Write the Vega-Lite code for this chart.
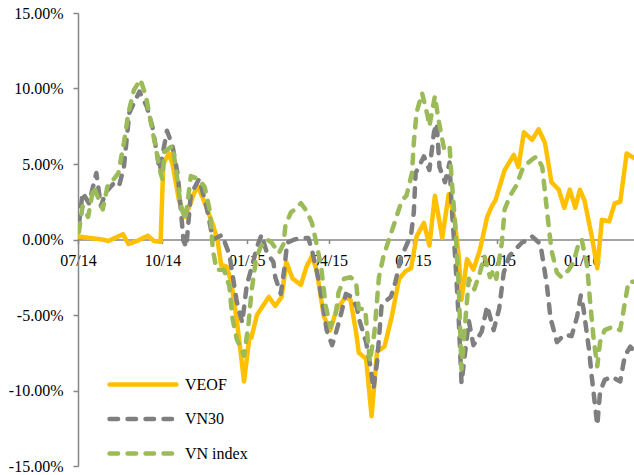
{
  "$schema": "https://vega.github.io/schema/vega-lite/v6.json",
  "width": 556,
  "height": 453,
  "autosize": {"type": "none"},
  "padding": {"left": 78, "top": 13, "right": 0, "bottom": 9},
  "background": "white",
  "config": {"view": {"stroke": null}, "font": "Liberation Serif"},
  "data": {"values": [
    {"s":"VEOF","d":"2014-07-02","v":0.2},{"s":"VEOF","d":"2014-07-14","v":0.1},{"s":"VEOF","d":"2014-07-27","v":0.0},{"s":"VEOF","d":"2014-08-03","v":-0.1},{"s":"VEOF","d":"2014-08-19","v":0.35},{"s":"VEOF","d":"2014-08-25","v":-0.3},{"s":"VEOF","d":"2014-09-05","v":-0.05},{"s":"VEOF","d":"2014-09-15","v":0.25},{"s":"VEOF","d":"2014-09-22","v":-0.1},{"s":"VEOF","d":"2014-09-29","v":-0.15},{"s":"VEOF","d":"2014-10-02","v":5.0},{"s":"VEOF","d":"2014-10-08","v":5.7},{"s":"VEOF","d":"2014-10-12","v":5.0},{"s":"VEOF","d":"2014-10-19","v":2.6},{"s":"VEOF","d":"2014-10-26","v":1.5},{"s":"VEOF","d":"2014-11-03","v":2.8},{"s":"VEOF","d":"2014-11-08","v":3.6},{"s":"VEOF","d":"2014-11-15","v":2.6},{"s":"VEOF","d":"2014-11-25","v":1.0},{"s":"VEOF","d":"2014-11-30","v":0.0},{"s":"VEOF","d":"2014-12-04","v":-1.7},{"s":"VEOF","d":"2014-12-10","v":-1.8},{"s":"VEOF","d":"2014-12-15","v":-2.8},{"s":"VEOF","d":"2014-12-21","v":-5.3},{"s":"VEOF","d":"2014-12-29","v":-9.4},{"s":"VEOF","d":"2015-01-04","v":-6.4},{"s":"VEOF","d":"2015-01-06","v":-6.5},{"s":"VEOF","d":"2015-01-12","v":-5.0},{"s":"VEOF","d":"2015-01-25","v":-3.8},{"s":"VEOF","d":"2015-02-01","v":-4.4},{"s":"VEOF","d":"2015-02-08","v":-3.8},{"s":"VEOF","d":"2015-02-13","v":-1.5},{"s":"VEOF","d":"2015-02-20","v":-2.6},{"s":"VEOF","d":"2015-03-01","v":-3.0},{"s":"VEOF","d":"2015-03-07","v":-1.8},{"s":"VEOF","d":"2015-03-13","v":-1.1},{"s":"VEOF","d":"2015-03-18","v":-2.0},{"s":"VEOF","d":"2015-03-26","v":-5.1},{"s":"VEOF","d":"2015-04-02","v":-6.0},{"s":"VEOF","d":"2015-04-09","v":-4.6},{"s":"VEOF","d":"2015-04-19","v":-3.8},{"s":"VEOF","d":"2015-04-24","v":-4.0},{"s":"VEOF","d":"2015-04-30","v":-6.1},{"s":"VEOF","d":"2015-05-03","v":-7.5},{"s":"VEOF","d":"2015-05-11","v":-7.9},{"s":"VEOF","d":"2015-05-17","v":-11.7},{"s":"VEOF","d":"2015-05-23","v":-7.4},{"s":"VEOF","d":"2015-05-31","v":-7.1},{"s":"VEOF","d":"2015-06-08","v":-5.1},{"s":"VEOF","d":"2015-06-16","v":-2.6},{"s":"VEOF","d":"2015-06-23","v":-2.1},{"s":"VEOF","d":"2015-06-29","v":-1.9},{"s":"VEOF","d":"2015-07-05","v":0.2},{"s":"VEOF","d":"2015-07-13","v":1.1},{"s":"VEOF","d":"2015-07-19","v":-0.4},{"s":"VEOF","d":"2015-07-25","v":2.9},{"s":"VEOF","d":"2015-08-02","v":0.1},{"s":"VEOF","d":"2015-08-09","v":3.0},{"s":"VEOF","d":"2015-08-15","v":1.5},{"s":"VEOF","d":"2015-08-20","v":-1.1},{"s":"VEOF","d":"2015-08-23","v":-4.0},{"s":"VEOF","d":"2015-08-29","v":-1.3},{"s":"VEOF","d":"2015-09-05","v":-2.0},{"s":"VEOF","d":"2015-09-12","v":-0.7},{"s":"VEOF","d":"2015-09-20","v":1.5},{"s":"VEOF","d":"2015-09-25","v":2.2},{"s":"VEOF","d":"2015-09-29","v":2.6},{"s":"VEOF","d":"2015-10-09","v":4.6},{"s":"VEOF","d":"2015-10-19","v":5.6},{"s":"VEOF","d":"2015-10-24","v":4.8},{"s":"VEOF","d":"2015-10-30","v":7.1},{"s":"VEOF","d":"2015-11-08","v":6.6},{"s":"VEOF","d":"2015-11-15","v":7.3},{"s":"VEOF","d":"2015-11-22","v":6.4},{"s":"VEOF","d":"2015-11-29","v":3.8},{"s":"VEOF","d":"2015-12-07","v":3.3},{"s":"VEOF","d":"2015-12-13","v":2.1},{"s":"VEOF","d":"2015-12-19","v":3.3},{"s":"VEOF","d":"2015-12-25","v":2.1},{"s":"VEOF","d":"2015-12-30","v":3.3},{"s":"VEOF","d":"2016-01-04","v":2.6},{"s":"VEOF","d":"2016-01-12","v":0.2},{"s":"VEOF","d":"2016-01-18","v":-1.9},{"s":"VEOF","d":"2016-01-23","v":1.3},{"s":"VEOF","d":"2016-01-31","v":1.2},{"s":"VEOF","d":"2016-02-06","v":2.4},{"s":"VEOF","d":"2016-02-12","v":2.5},{"s":"VEOF","d":"2016-02-19","v":5.7},{"s":"VEOF","d":"2016-02-27","v":5.4},
    {"s":"VN30","d":"2014-07-02","v":1.0},{"s":"VN30","d":"2014-07-06","v":3.1},{"s":"VN30","d":"2014-07-13","v":2.4},{"s":"VN30","d":"2014-07-21","v":4.4},{"s":"VN30","d":"2014-07-26","v":2.2},{"s":"VN30","d":"2014-07-31","v":3.1},{"s":"VN30","d":"2014-08-10","v":3.8},{"s":"VN30","d":"2014-08-15","v":3.6},{"s":"VN30","d":"2014-08-20","v":4.8},{"s":"VN30","d":"2014-08-26","v":8.4},{"s":"VN30","d":"2014-09-06","v":9.8},{"s":"VN30","d":"2014-09-14","v":8.8},{"s":"VN30","d":"2014-09-20","v":7.5},{"s":"VN30","d":"2014-09-28","v":4.6},{"s":"VN30","d":"2014-10-06","v":7.2},{"s":"VN30","d":"2014-10-12","v":6.2},{"s":"VN30","d":"2014-10-18","v":4.2},{"s":"VN30","d":"2014-10-21","v":2.0},{"s":"VN30","d":"2014-10-24","v":-0.1},{"s":"VN30","d":"2014-10-27","v":-0.5},{"s":"VN30","d":"2014-11-01","v":3.0},{"s":"VN30","d":"2014-11-10","v":4.0},{"s":"VN30","d":"2014-11-18","v":2.2},{"s":"VN30","d":"2014-11-25","v":0.0},{"s":"VN30","d":"2014-12-05","v":0.3},{"s":"VN30","d":"2014-12-13","v":-1.0},{"s":"VN30","d":"2014-12-21","v":-4.1},{"s":"VN30","d":"2014-12-27","v":-5.5},{"s":"VN30","d":"2015-01-01","v":-3.0},{"s":"VN30","d":"2015-01-07","v":-1.7},{"s":"VN30","d":"2015-01-12","v":-0.5},{"s":"VN30","d":"2015-01-17","v":0.3},{"s":"VN30","d":"2015-01-23","v":-0.9},{"s":"VN30","d":"2015-01-30","v":-1.5},{"s":"VN30","d":"2015-02-01","v":-2.5},{"s":"VN30","d":"2015-02-07","v":-3.6},{"s":"VN30","d":"2015-02-11","v":-1.9},{"s":"VN30","d":"2015-02-14","v":-0.2},{"s":"VN30","d":"2015-02-22","v":0.0},{"s":"VN30","d":"2015-03-02","v":0.1},{"s":"VN30","d":"2015-03-09","v":0.1},{"s":"VN30","d":"2015-03-13","v":-0.7},{"s":"VN30","d":"2015-03-20","v":-2.6},{"s":"VN30","d":"2015-03-26","v":-4.8},{"s":"VN30","d":"2015-03-29","v":-6.0},{"s":"VN30","d":"2015-04-04","v":-7.0},{"s":"VN30","d":"2015-04-08","v":-6.2},{"s":"VN30","d":"2015-04-13","v":-5.1},{"s":"VN30","d":"2015-04-19","v":-3.6},{"s":"VN30","d":"2015-04-25","v":-3.8},{"s":"VN30","d":"2015-05-01","v":-4.5},{"s":"VN30","d":"2015-05-03","v":-5.2},{"s":"VN30","d":"2015-05-11","v":-6.8},{"s":"VN30","d":"2015-05-16","v":-8.5},{"s":"VN30","d":"2015-05-19","v":-9.9},{"s":"VN30","d":"2015-05-23","v":-8.1},{"s":"VN30","d":"2015-05-28","v":-4.3},{"s":"VN30","d":"2015-06-07","v":-3.8},{"s":"VN30","d":"2015-06-12","v":-2.8},{"s":"VN30","d":"2015-06-18","v":-1.2},{"s":"VN30","d":"2015-06-29","v":0.3},{"s":"VN30","d":"2015-07-02","v":1.8},{"s":"VN30","d":"2015-07-04","v":4.4},{"s":"VN30","d":"2015-07-13","v":5.5},{"s":"VN30","d":"2015-07-19","v":4.6},{"s":"VN30","d":"2015-07-24","v":7.1},{"s":"VN30","d":"2015-07-27","v":7.7},{"s":"VN30","d":"2015-07-30","v":4.8},{"s":"VN30","d":"2015-08-05","v":3.8},{"s":"VN30","d":"2015-08-10","v":5.1},{"s":"VN30","d":"2015-08-12","v":2.4},{"s":"VN30","d":"2015-08-16","v":-1.1},{"s":"VN30","d":"2015-08-20","v":-5.3},{"s":"VN30","d":"2015-08-23","v":-9.5},{"s":"VN30","d":"2015-08-31","v":-5.4},{"s":"VN30","d":"2015-09-05","v":-7.0},{"s":"VN30","d":"2015-09-14","v":-6.1},{"s":"VN30","d":"2015-09-20","v":-4.4},{"s":"VN30","d":"2015-09-27","v":-6.0},{"s":"VN30","d":"2015-10-03","v":-4.6},{"s":"VN30","d":"2015-10-08","v":-2.2},{"s":"VN30","d":"2015-10-14","v":-1.1},{"s":"VN30","d":"2015-10-20","v":-0.7},{"s":"VN30","d":"2015-10-28","v":-0.2},{"s":"VN30","d":"2015-11-01","v":-0.1},{"s":"VN30","d":"2015-11-08","v":0.2},{"s":"VN30","d":"2015-11-17","v":-0.3},{"s":"VN30","d":"2015-11-24","v":-3.0},{"s":"VN30","d":"2015-11-28","v":-5.2},{"s":"VN30","d":"2015-12-05","v":-6.8},{"s":"VN30","d":"2015-12-13","v":-6.3},{"s":"VN30","d":"2015-12-21","v":-6.4},{"s":"VN30","d":"2015-12-27","v":-5.1},{"s":"VN30","d":"2015-12-31","v":-3.7},{"s":"VN30","d":"2016-01-03","v":-4.6},{"s":"VN30","d":"2016-01-09","v":-7.3},{"s":"VN30","d":"2016-01-12","v":-9.1},{"s":"VN30","d":"2016-01-18","v":-12.3},{"s":"VN30","d":"2016-01-21","v":-10.1},{"s":"VN30","d":"2016-01-26","v":-9.3},{"s":"VN30","d":"2016-02-03","v":-9.1},{"s":"VN30","d":"2016-02-12","v":-9.4},{"s":"VN30","d":"2016-02-17","v":-7.7},{"s":"VN30","d":"2016-02-23","v":-7.1},{"s":"VN30","d":"2016-02-27","v":-7.4},
    {"s":"VN index","d":"2014-07-02","v":0.5},{"s":"VN index","d":"2014-07-06","v":2.2},{"s":"VN index","d":"2014-07-12","v":1.5},{"s":"VN index","d":"2014-07-18","v":3.5},{"s":"VN index","d":"2014-07-24","v":2.6},{"s":"VN index","d":"2014-07-28","v":2.0},{"s":"VN index","d":"2014-08-02","v":3.5},{"s":"VN index","d":"2014-08-09","v":4.0},{"s":"VN index","d":"2014-08-14","v":4.4},{"s":"VN index","d":"2014-08-20","v":6.4},{"s":"VN index","d":"2014-08-25","v":8.4},{"s":"VN index","d":"2014-08-31","v":9.9},{"s":"VN index","d":"2014-09-07","v":10.6},{"s":"VN index","d":"2014-09-13","v":9.5},{"s":"VN index","d":"2014-09-18","v":7.9},{"s":"VN index","d":"2014-09-24","v":6.0},{"s":"VN index","d":"2014-09-29","v":4.4},{"s":"VN index","d":"2014-10-01","v":4.0},{"s":"VN index","d":"2014-10-03","v":5.8},{"s":"VN index","d":"2014-10-12","v":6.2},{"s":"VN index","d":"2014-10-16","v":4.6},{"s":"VN index","d":"2014-10-21","v":2.2},{"s":"VN index","d":"2014-10-26","v":1.3},{"s":"VN index","d":"2014-11-01","v":4.2},{"s":"VN index","d":"2014-11-09","v":4.0},{"s":"VN index","d":"2014-11-16","v":3.5},{"s":"VN index","d":"2014-11-22","v":1.8},{"s":"VN index","d":"2014-11-25","v":-0.7},{"s":"VN index","d":"2014-11-29","v":-2.0},{"s":"VN index","d":"2014-12-07","v":-2.0},{"s":"VN index","d":"2014-12-13","v":-3.1},{"s":"VN index","d":"2014-12-16","v":-5.1},{"s":"VN index","d":"2014-12-21","v":-6.6},{"s":"VN index","d":"2014-12-29","v":-7.7},{"s":"VN index","d":"2015-01-03","v":-5.5},{"s":"VN index","d":"2015-01-06","v":-3.5},{"s":"VN index","d":"2015-01-11","v":-1.3},{"s":"VN index","d":"2015-01-16","v":-0.5},{"s":"VN index","d":"2015-01-23","v":0.0},{"s":"VN index","d":"2015-01-28","v":-0.2},{"s":"VN index","d":"2015-02-05","v":-0.9},{"s":"VN index","d":"2015-02-10","v":-0.3},{"s":"VN index","d":"2015-02-12","v":0.9},{"s":"VN index","d":"2015-02-18","v":1.8},{"s":"VN index","d":"2015-02-23","v":2.0},{"s":"VN index","d":"2015-03-01","v":2.4},{"s":"VN index","d":"2015-03-07","v":1.9},{"s":"VN index","d":"2015-03-13","v":1.1},{"s":"VN index","d":"2015-03-17","v":0.0},{"s":"VN index","d":"2015-03-23","v":-1.8},{"s":"VN index","d":"2015-03-28","v":-4.4},{"s":"VN index","d":"2015-04-02","v":-5.8},{"s":"VN index","d":"2015-04-08","v":-4.9},{"s":"VN index","d":"2015-04-11","v":-3.5},{"s":"VN index","d":"2015-04-17","v":-2.6},{"s":"VN index","d":"2015-04-24","v":-2.5},{"s":"VN index","d":"2015-04-30","v":-2.8},{"s":"VN index","d":"2015-05-03","v":-4.6},{"s":"VN index","d":"2015-05-10","v":-4.6},{"s":"VN index","d":"2015-05-15","v":-8.1},{"s":"VN index","d":"2015-05-20","v":-6.2},{"s":"VN index","d":"2015-05-25","v":-2.5},{"s":"VN index","d":"2015-05-30","v":-1.1},{"s":"VN index","d":"2015-06-06","v":0.2},{"s":"VN index","d":"2015-06-11","v":1.1},{"s":"VN index","d":"2015-06-19","v":2.6},{"s":"VN index","d":"2015-06-24","v":2.9},{"s":"VN index","d":"2015-06-30","v":4.4},{"s":"VN index","d":"2015-07-02","v":6.4},{"s":"VN index","d":"2015-07-05","v":8.4},{"s":"VN index","d":"2015-07-11","v":9.7},{"s":"VN index","d":"2015-07-17","v":8.2},{"s":"VN index","d":"2015-07-19","v":7.5},{"s":"VN index","d":"2015-07-25","v":9.5},{"s":"VN index","d":"2015-07-29","v":7.9},{"s":"VN index","d":"2015-08-04","v":6.0},{"s":"VN index","d":"2015-08-10","v":6.2},{"s":"VN index","d":"2015-08-12","v":4.2},{"s":"VN index","d":"2015-08-16","v":1.1},{"s":"VN index","d":"2015-08-20","v":-3.1},{"s":"VN index","d":"2015-08-23","v":-8.6},{"s":"VN index","d":"2015-08-27","v":-5.5},{"s":"VN index","d":"2015-08-31","v":-2.6},{"s":"VN index","d":"2015-09-06","v":-3.3},{"s":"VN index","d":"2015-09-12","v":-2.2},{"s":"VN index","d":"2015-09-17","v":-1.1},{"s":"VN index","d":"2015-09-23","v":-2.5},{"s":"VN index","d":"2015-09-27","v":-2.0},{"s":"VN index","d":"2015-09-30","v":-2.6},{"s":"VN index","d":"2015-10-06","v":-0.2},{"s":"VN index","d":"2015-10-09","v":2.0},{"s":"VN index","d":"2015-10-15","v":2.9},{"s":"VN index","d":"2015-10-22","v":3.6},{"s":"VN index","d":"2015-10-28","v":4.6},{"s":"VN index","d":"2015-11-02","v":5.0},{"s":"VN index","d":"2015-11-08","v":5.3},{"s":"VN index","d":"2015-11-13","v":5.5},{"s":"VN index","d":"2015-11-19","v":4.8},{"s":"VN index","d":"2015-11-24","v":2.0},{"s":"VN index","d":"2015-11-29","v":-0.7},{"s":"VN index","d":"2015-12-05","v":-2.2},{"s":"VN index","d":"2015-12-10","v":-2.5},{"s":"VN index","d":"2015-12-18","v":-2.0},{"s":"VN index","d":"2015-12-23","v":-1.5},{"s":"VN index","d":"2015-12-29","v":-0.2},{"s":"VN index","d":"2016-01-01","v":0.0},{"s":"VN index","d":"2016-01-07","v":-1.8},{"s":"VN index","d":"2016-01-10","v":-4.0},{"s":"VN index","d":"2016-01-14","v":-6.6},{"s":"VN index","d":"2016-01-18","v":-8.4},{"s":"VN index","d":"2016-01-21","v":-6.8},{"s":"VN index","d":"2016-01-26","v":-6.0},{"s":"VN index","d":"2016-02-03","v":-5.8},{"s":"VN index","d":"2016-02-12","v":-6.0},{"s":"VN index","d":"2016-02-17","v":-4.2},{"s":"VN index","d":"2016-02-21","v":-2.8},{"s":"VN index","d":"2016-02-27","v":-2.8}
  ]},
  "mark": {"type": "line", "strokeWidth": 4.5, "strokeCap": "round", "strokeJoin": "round", "clip": true},
  "encoding": {
    "x": {
      "field": "d", "type": "temporal",
      "scale": {"type": "utc", "domain": [{"year": 2014, "month": 7, "date": 1, "utc": true}, {"year": 2016, "month": 2, "date": 27, "utc": true}]},
      "axis": {
        "title": null, "offset": -226.5, "grid": false, "format": "%m/%y",
        "values": [
          {"year": 2014, "month": 7, "date": 1, "utc": true},
          {"year": 2014, "month": 10, "date": 1, "utc": true},
          {"year": 2015, "month": 1, "date": 1, "utc": true},
          {"year": 2015, "month": 4, "date": 1, "utc": true},
          {"year": 2015, "month": 7, "date": 1, "utc": true},
          {"year": 2015, "month": 10, "date": 1, "utc": true},
          {"year": 2016, "month": 1, "date": 1, "utc": true}
        ],
        "domainColor": "#868686", "domainWidth": 1.5, "tickColor": "#868686", "tickSize": 4, "tickWidth": 1.5,
        "labelFont": "Liberation Serif", "labelFontSize": 16, "labelColor": "#000000", "labelPadding": 9, "labelFlush": false, "labelOverlap": false
      }
    },
    "y": {
      "field": "v", "type": "quantitative",
      "scale": {"domain": [-15, 15], "nice": false, "zero": false},
      "axis": {
        "title": null, "grid": false, "values": [-15, -10, -5, 0, 5, 10, 15],
        "labelExpr": "replace(format(datum.value/100, '.2%'), '−', '-')",
        "domainColor": "#868686", "domainWidth": 1.5, "tickColor": "#868686", "tickSize": 5, "tickWidth": 1.5,
        "labelFont": "Liberation Serif", "labelFontSize": 16, "labelColor": "#000000", "labelPadding": 10, "labelFlush": false, "labelOverlap": false
      }
    },
    "color": {
      "field": "s", "type": "nominal",
      "scale": {"domain": ["VEOF", "VN30", "VN index"], "range": ["#FFC000", "#7F7F7F", "#9BBB59"]},
      "legend": {"title": null, "orient": "none", "legendX": 51.5, "legendY": 358, "symbolType": "M-3,0H3", "symbolSize": 498, "symbolStrokeWidth": 4.5, "labelFont": "Liberation Serif", "labelFontSize": 16, "labelColor": "#000000", "labelOffset": 28.5, "rowPadding": 11.5, "encode": {"symbols": {"update": {"strokeCap": {"value": "round"}}}}}
    },
    "strokeDash": {
      "field": "s", "type": "nominal",
      "scale": {"domain": ["VEOF", "VN30", "VN index"], "range": [[1, 0], [8.5, 9.5], [8.5, 9.5]]},
      "legend": {"title": null, "orient": "none", "legendX": 51.5, "legendY": 358, "symbolType": "M-3,0H3", "symbolSize": 498, "symbolStrokeWidth": 4.5, "labelFont": "Liberation Serif", "labelFontSize": 16, "labelColor": "#000000", "labelOffset": 28.5, "rowPadding": 11.5, "encode": {"symbols": {"update": {"strokeCap": {"value": "round"}}}}}
    }
  }
}
